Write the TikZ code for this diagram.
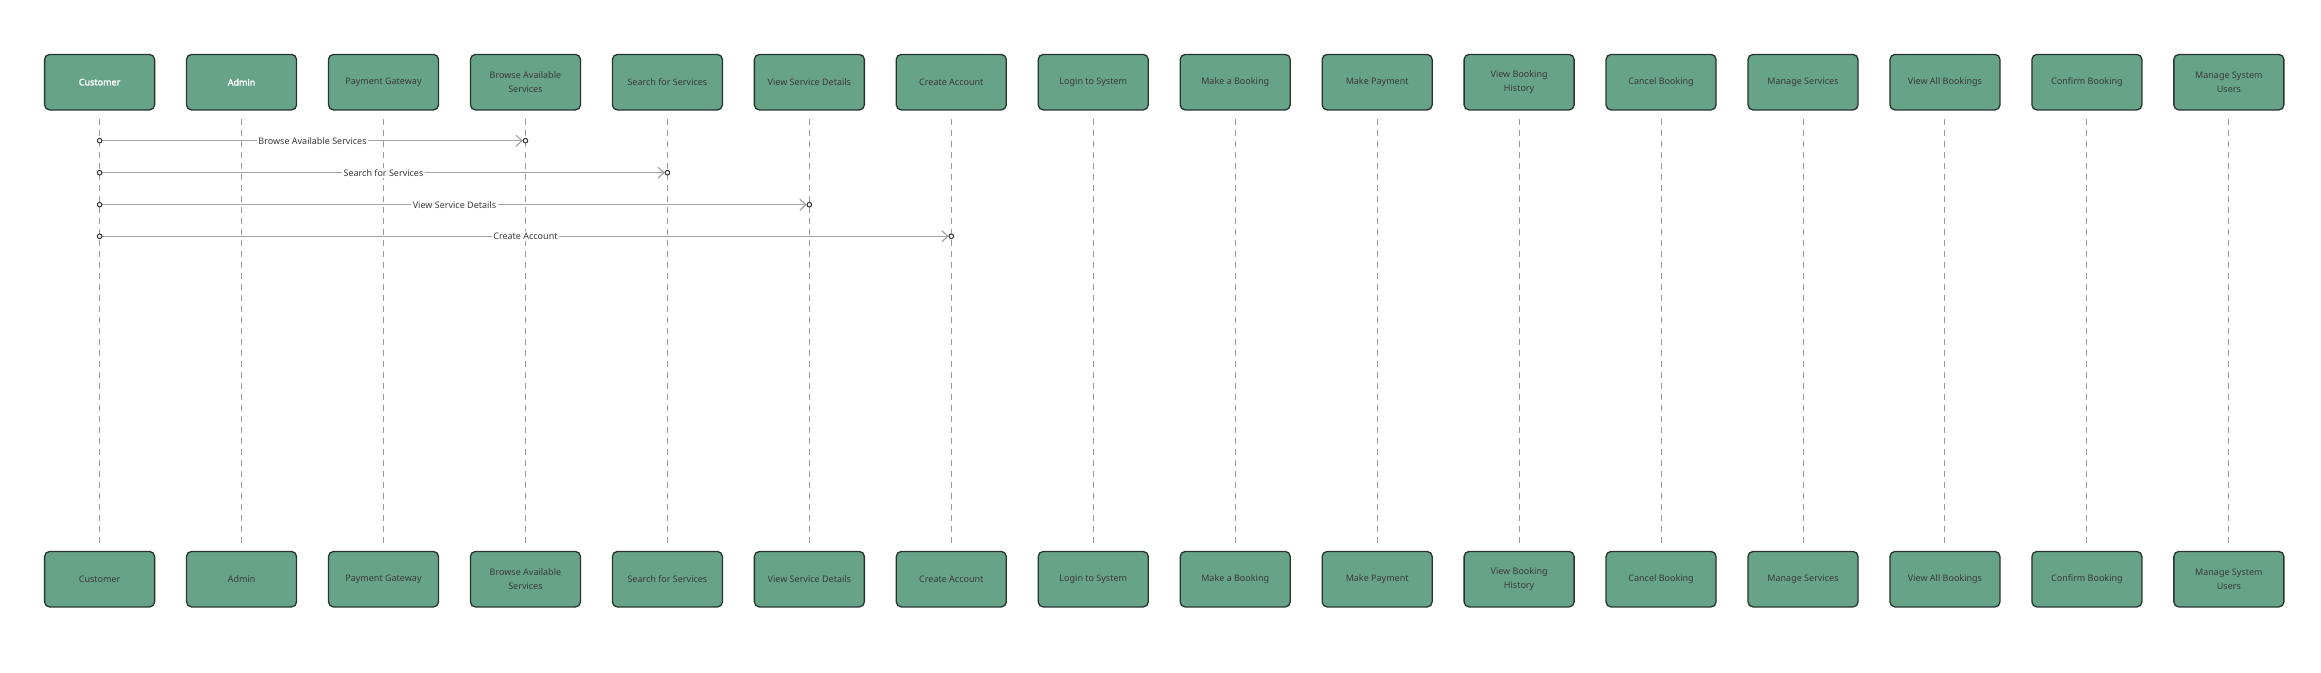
\documentclass[tikz,border=0pt]{standalone}
\usepackage{fontspec}
\setmainfont{Noto Sans}
\newfontfamily\headfont{Noto Sans}[FakeBold=2.2]
\usetikzlibrary{arrows.meta,calc}
\definecolor{boxfill}{HTML}{67A388}
\definecolor{boxline}{HTML}{26352E}
\definecolor{txt}{HTML}{3A3A3A}
\definecolor{msgline}{HTML}{A3A3A3}
\definecolor{lifecol}{HTML}{9A9A9A}
\tikzset{
  actorbox/.style={draw=boxline, line width=1.3pt, fill=boxfill, rounded corners=5pt,
    minimum width=110pt, minimum height=55.5pt, inner sep=2pt, align=center,
    font=\fontsize{9}{14}\selectfont, text=txt},
  headactor/.style={actorbox, text=white, font=\headfont\fontsize{9}{14}\selectfont},
  lifeline/.style={draw=lifecol, line width=1pt, dash pattern=on 6pt off 5pt},
  msgarrow/.style={draw=msgline, line width=1.3pt, -{Straight Barb[length=6pt,width=11pt,line width=1.2pt]}, shorten >=2.6pt},
  msglabel/.style={fill=white, inner sep=1.5pt, text=txt, font=\fontsize{9}{11}\selectfont},
  endpoint/.style={draw=black!80, line width=1pt, fill=white, circle, inner sep=0pt, minimum size=4.6pt},
}
\begin{document}
\begin{tikzpicture}[x=1pt,y=1pt]
\useasboundingbox[fill=white] (0,0) rectangle (2321,672);
\def\ytop{589.8}
\def\ybot{92.8}
\foreach \i/\lab/\st in {
  1/Customer/headactor,
  2/Admin/headactor,
  3/Payment Gateway/actorbox,
  4/{Browse Available\\Services}/actorbox,
  5/Search for Services/actorbox,
  6/View Service Details/actorbox,
  7/Create Account/actorbox,
  8/Login to System/actorbox,
  9/Make a Booking/actorbox,
  10/Make Payment/actorbox,
  11/{View Booking\\History}/actorbox,
  12/Cancel Booking/actorbox,
  13/Manage Services/actorbox,
  14/View All Bookings/actorbox,
  15/Confirm Booking/actorbox,
  16/{Manage System\\Users}/actorbox}{
  \pgfmathsetmacro{\xc}{99.6+141.95*(\i-1)}
  \node[\st] (t\i) at (\xc,\ytop) {\lab};
  \node[actorbox] (b\i) at (\xc,\ybot) {\lab};
  \draw[lifeline] ([yshift=-8pt]t\i.south) -- ([yshift=6pt]b\i.north);
}
% messages
\foreach \n/\tgt/\yy in {1/4/531.3, 2/5/499.3, 3/6/467.3, 4/7/435.7}{
  \coordinate (m\n s) at (t1.south |- 0,\yy);
  \coordinate (m\n e) at (t\tgt.south |- 0,\yy);
}
\draw[msgarrow] (m1s) -- node[msglabel] {Browse Available Services} (m1e);
\draw[msgarrow] (m2s) -- node[msglabel] {Search for Services} (m2e);
\draw[msgarrow] (m3s) -- node[msglabel] {View Service Details} (m3e);
\draw[msgarrow] (m4s) -- node[msglabel] {Create Account} (m4e);
\foreach \n in {1,2,3,4}{
  \node[endpoint] (p\n s) at (m\n s) {};
  \node[endpoint] (p\n e) at (m\n e) {};
}
\end{tikzpicture}
\end{document}
